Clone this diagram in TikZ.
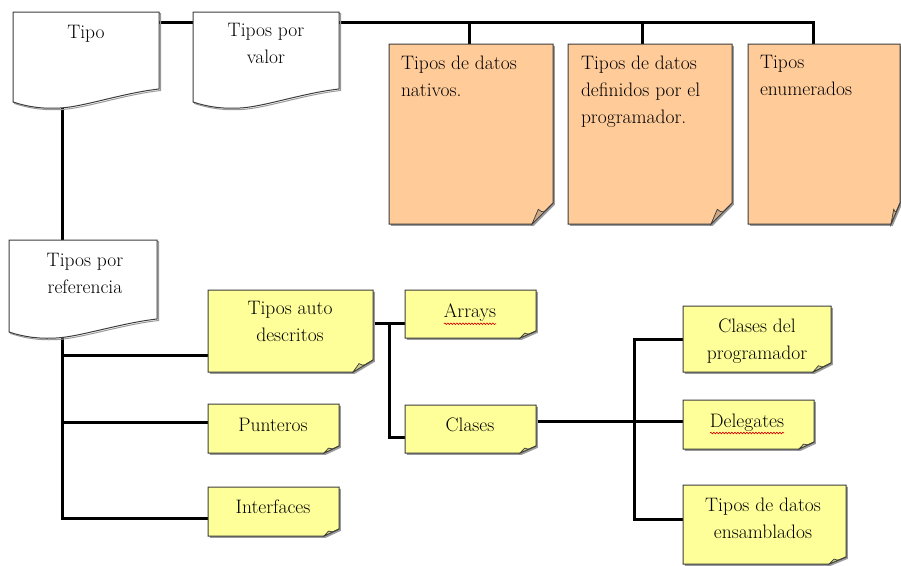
\documentclass[tikz,border=0pt]{standalone}
\usetikzlibrary{calc,decorations.pathmorphing}

\definecolor{notepeach}{HTML}{FFCC99}
\definecolor{noteyellow}{HTML}{FFFF99}
\definecolor{inkline}{HTML}{3C3C3C}
\definecolor{softshadow}{HTML}{9A9A9A}

\tikzset{
  holder/.style={draw=none, inner sep=0pt, outer sep=0pt},
  conn/.style={line width=3pt, black},
  lbl/.style={inner sep=0pt, outer sep=0pt, font=\rmfamily\fontsize{19.5}{27}\selectfont,
              text=black, align=center, anchor=north},
  lblL/.style={lbl, align=left, anchor=north west},
  spell/.style={red!85!black, line width=0.6pt,
                decorate, decoration={snake, amplitude=0.8pt, segment length=3pt}},
}

% flowchart "document" outline with a wavy lower edge
\newcommand\docshape[1]{%
  \draw[softshadow, line width=1pt, transform canvas={shift={(1.5pt,-1.5pt)}}]
    ($(#1.south west)+(0,-6)$) -- (#1.north west) -- (#1.north east)
    -- ($(#1.south east)+(0,-19)$)
    .. controls ($(#1.south east)+(-36,-15)$) and ($(#1.south west)+(70,-1)$) .. ($(#1.south west)+(47,0)$)
    .. controls ($(#1.south west)+(30,1)$) and ($(#1.south west)+(15,-1)$) .. cycle;
  \filldraw[fill=white, draw=inkline, line width=1pt]
    ($(#1.south west)+(0,-6)$) -- (#1.north west) -- (#1.north east)
    -- ($(#1.south east)+(0,-19)$)
    .. controls ($(#1.south east)+(-36,-15)$) and ($(#1.south west)+(70,-1)$) .. ($(#1.south west)+(47,0)$)
    .. controls ($(#1.south west)+(30,1)$) and ($(#1.south west)+(15,-1)$) .. cycle;
}

% sticky note with a folded lower-right corner: name, fold width, fold height, colour
\newcommand\noteshape[4]{%
  \fill[softshadow, transform canvas={shift={(1.8pt,-1.8pt)}}]
    (#1.north west) -- (#1.north east) -- ($(#1.south east)+(0,-#3)$)
    -- ($(#1.south east)+(-#2,0)$) -- (#1.south west) -- cycle;
  \filldraw[fill=#4, draw=inkline, line width=1pt]
    (#1.north west) -- (#1.north east) -- ($(#1.south east)+(0,-#3)$)
    -- ($(#1.south east)+(-#2,0)$) -- (#1.south west) -- cycle;
  \filldraw[fill=#4!78!black!90, draw=inkline, line width=0.7pt]
    ($(#1.south east)+(0,-#3)$)
    .. controls ($(#1.south east)+(-0.45*#2,-0.5*#3)$) .. ($(#1.south east)+(-0.7*#2,-0.7*#3)$)
    -- ($(#1.south east)+(-#2,0)$) -- cycle;
}

\begin{document}
\begin{tikzpicture}[x=1pt, y=-1pt]
  \useasboundingbox (0,0) rectangle (901,565);
  \fill[white] (0,0) rectangle (901,565);

  % ---- shape holders ----
  \node[holder, minimum width=146pt, minimum height=96pt] (tipo)  at (86,60) {};
  \node[holder, minimum width=146pt, minimum height=96pt] (valor) at (266,60) {};
  \node[holder, minimum width=148pt, minimum height=98pt] (ref)   at (83,289) {};

  \node[holder, minimum width=164pt, minimum height=180pt] (nat) at (471,134) {};
  \node[holder, minimum width=164pt, minimum height=180pt] (def) at (650,134) {};
  \node[holder, minimum width=152pt, minimum height=180pt] (enu) at (824,134) {};

  \node[holder, minimum width=165pt, minimum height=82pt] (auto) at (290.5,331) {};
  \node[holder, minimum width=131pt, minimum height=48pt] (arr)  at (470.5,314) {};
  \node[holder, minimum width=131pt, minimum height=48pt] (cla)  at (470.5,429) {};
  \node[holder, minimum width=131pt, minimum height=49pt] (pun)  at (273.5,428.5) {};
  \node[holder, minimum width=131pt, minimum height=49pt] (int)  at (273.5,511.5) {};
  \node[holder, minimum width=148pt, minimum height=66pt] (cdp)  at (757,339) {};
  \node[holder, minimum width=131pt, minimum height=49pt] (del)  at (748.5,424.5) {};
  \node[holder, minimum width=163pt, minimum height=79pt] (ens)  at (764.5,524.5) {};

  % ---- junction points of the connectors ----
  \coordinate (bus)  at (0,22);
  \coordinate (dNat) at (469,22);
  \coordinate (dDef) at (642,22);
  \coordinate (dEnu) at (813,22);
  \coordinate (trunk) at (62,0);
  \coordinate (bAuto) at (62,355);
  \coordinate (bPun)  at (62,422);
  \coordinate (bInt)  at (62,518);
  \coordinate (bArr)  at (389,323);
  \coordinate (bCla)  at (389,437);
  \coordinate (bCdp)  at (634,339);
  \coordinate (bDel)  at (634,421);
  \coordinate (bEns)  at (634,519);

  % ---- connectors ----
  \draw[conn] (tipo.east |- bus) -- (valor.west |- bus);
  \draw[conn] (valor.east |- bus) -- (dEnu) -- (dEnu |- enu.north);
  \draw[conn] (dNat) -- (dNat |- nat.north);
  \draw[conn] (dDef) -- (dDef |- def.north);
  \draw[conn] (tipo.south -| trunk) -- (ref.north -| trunk);
  \draw[conn] (ref.south -| trunk) -- (bInt) -- (int.west |- bInt);
  \draw[conn] (bAuto) -- (auto.west |- bAuto);
  \draw[conn] (bPun) -- (pun.west |- bPun);
  \draw[conn] (auto.east |- bArr) -- (arr.west |- bArr);
  \draw[conn] (bArr) -- (bCla) -- (cla.west |- bCla);
  \draw[conn] (cla.east |- bDel) -- (del.west |- bDel);
  \draw[conn] (cdp.west |- bCdp) -- (bCdp) -- (bEns) -- (ens.west |- bEns);

  % ---- shapes ----
  \docshape{tipo}
  \docshape{valor}
  \docshape{ref}

  \noteshape{nat}{21}{21}{notepeach}
  \noteshape{def}{21}{21}{notepeach}
  \noteshape{enu}{9}{21}{notepeach}

  \noteshape{auto}{20}{12}{noteyellow}
  \noteshape{arr}{16}{7}{noteyellow}
  \noteshape{cla}{16}{7}{noteyellow}
  \noteshape{pun}{15}{7}{noteyellow}
  \noteshape{int}{15}{7}{noteyellow}
  \noteshape{cdp}{18}{9}{noteyellow}
  \noteshape{del}{15}{7}{noteyellow}
  \noteshape{ens}{17}{7}{noteyellow}

  % ---- labels ----
  \node[lbl] (tipoT)  at (86,25.5) {Tipo};
  \node[lbl] (valorT) at (266,23.5) {Tipos por\\valor};
  \node[lbl] (refT)   at (85,253.5) {Tipos por\\referencia};

  \node[lblL] (natT) at (401,55.5) {Tipos de datos\\nativos.};
  \node[lblL] (defT) at (581,55.5) {Tipos de datos\\definidos por el\\programador.};
  \node[lblL] (enuT) at (760,55.5) {Tipos\\enumerados};

  \node[lbl] (autoT) at (290,301.5) {Tipos auto\\descritos};
  \node[lbl] (arrT)  at (470,304)   {Arrays};
  \node[lbl] (claT)  at (470,418)   {Clases};
  \node[lbl] (punT)  at (273,418)   {Punteros};
  \node[lbl] (intT)  at (273,500)   {Interfaces};
  \node[lbl] (cdpT)  at (757,319)   {Clases del\\programador};
  \node[lbl] (delT)  at (747,413.5) {Delegates};
  \node[lbl] (ensT)  at (763,497.5) {Tipos de datos\\ensamblados};

  % spell-check marks under two words
  \draw[spell] ($(arrT.south west)+(0,2)$) -- ($(arrT.south east)+(0,2)$);
  \draw[spell] ($(delT.south west)+(0,2)$) -- ($(delT.south east)+(0,2)$);
\end{tikzpicture}
\end{document}
